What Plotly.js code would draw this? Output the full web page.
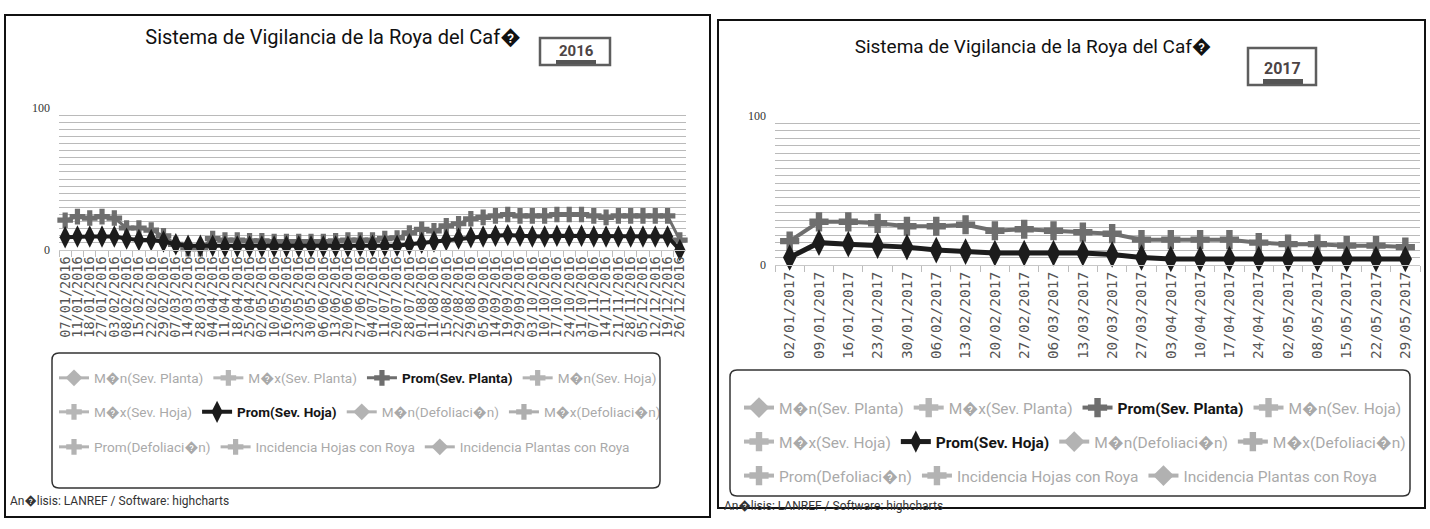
<!DOCTYPE html>
<html><head><meta charset="utf-8">
<script src="https://cdn.plot.ly/plotly-3.0.1.min.js"></script>
<style>
body{margin:0;background:#fff;}
#c16{position:absolute;left:0;top:0;width:715px;height:529px;}
#c17{position:absolute;left:715px;top:0;width:715px;height:529px;}
</style></head><body>
<div id="c16"></div><div id="c17"></div>
<script>
// ---------- DATA ----------
const chartTitle = 'Sistema de Vigilancia de la Roya del Caf\uFFFD';
const footerText = 'An\uFFFDlisis: LANREF / Software: highcharts';

const dates2016 = ['07/01/2016','11/01/2016','18/01/2016','27/01/2016','03/02/2016','08/02/2016','15/02/2016','22/02/2016','29/02/2016','07/03/2016','14/03/2016','28/03/2016','04/04/2016','11/04/2016','18/04/2016','25/04/2016','02/05/2016','10/05/2016','16/05/2016','23/05/2016','30/05/2016','06/06/2016','13/06/2016','20/06/2016','27/06/2016','04/07/2016','11/07/2016','20/07/2016','28/07/2016','01/08/2016','11/08/2016','15/08/2016','22/08/2016','29/08/2016','05/09/2016','14/09/2016','19/09/2016','29/09/2016','03/10/2016','10/10/2016','17/10/2016','24/10/2016','31/10/2016','07/11/2016','14/11/2016','21/11/2016','28/11/2016','05/12/2016','12/12/2016','19/12/2016','26/12/2016'];
const promSevPlanta2016 = [21,23.5,22.5,23.5,22.5,15.5,15.5,14,10,4,1,1,8,7,7,6.5,6.5,6,6,6,6,6,6.5,7,7,7,8,8.5,12,14.5,13.5,17,18.5,22,23,24,25,24,24,24,25,25,25,24,23,24,24,24,24,24,7];
const promSevHoja2016 = [9,9.5,9.5,9.5,9.5,8,7,7,6,4,3,3,3,2.5,2.5,2.5,2.5,2.5,2.5,2.5,2.5,2.5,2.5,2.5,3,3,3,3,4,5,6,7,8,9,9.5,10,10.5,10,9.5,9.5,10,10,10,9.5,9.5,9.5,9.5,9.5,9.5,9.5,0];

const dates2017 = ['02/01/2017','09/01/2017','16/01/2017','23/01/2017','30/01/2017','06/02/2017','13/02/2017','20/02/2017','27/02/2017','06/03/2017','13/03/2017','20/03/2017','27/03/2017','03/04/2017','10/04/2017','17/04/2017','24/04/2017','02/05/2017','08/05/2017','15/05/2017','22/05/2017','29/05/2017'];
const promSevPlanta2017 = [16,29,29,28,26,26,27,23,24,23,22,21,17,17,17,17,15,14,14,13,13,12];
const promSevHoja2017 = [5,15,14,13,12,10,9,8,8,8,8,7,5,4,4,4,4,4,4,4,4,4];

// the other nine series are switched off in the original (legend entries only, no values shown)
const hiddenSeriesY = [null];

const seriesNames = ['M\uFFFDn(Sev. Planta)','M\uFFFDx(Sev. Planta)','Prom(Sev. Planta)','M\uFFFDn(Sev. Hoja)','M\uFFFDx(Sev. Hoja)','Prom(Sev. Hoja)','M\uFFFDn(Defoliaci\uFFFDn)','M\uFFFDx(Defoliaci\uFFFDn)','Prom(Defoliaci\uFFFDn)','Incidencia Hojas con Roya','Incidencia Plantas con Roya'];
const seriesSymbols = ['diamond','cross','cross','cross','cross','diamond-tall','diamond','cross','cross','cross','diamond'];
const seriesColors = ['#6a6a6a','#707070','#6e6e6e','#6a6a6a','#6f6f6f','#1c1c1c','#6a6a6a','#606060','#6a6a6a','#6a6a6a','#656565'];
const legendRowOf = [0,0,0,0,1,1,1,1,2,2,2];

const yTick0 = 0, yTickStep = 100, yMinorStep = 5;

// ---------- DRAWING ----------
const FONT = 'Roboto, "Liberation Sans", sans-serif';
const W = 715, H = 529;
const legendIds = ['legend', 'legend2', 'legend3'];

function makePanel(divId, cfg) {
  const m = cfg.margin;
  const gw = W - m.l - m.r, gh = H - m.t - m.b;
  const px = x => (x - m.l) / gw;
  const py = y => (H - m.b - y) / gh;
  function roundRect(x0, y0, x1, y1, r) {
    const X = px, Y = py;
    return `M ${X(x0+r)},${Y(y0)} L ${X(x1-r)},${Y(y0)} Q ${X(x1)},${Y(y0)} ${X(x1)},${Y(y0+r)} ` +
           `L ${X(x1)},${Y(y1-r)} Q ${X(x1)},${Y(y1)} ${X(x1-r)},${Y(y1)} ` +
           `L ${X(x0+r)},${Y(y1)} Q ${X(x0)},${Y(y1)} ${X(x0)},${Y(y1-r)} ` +
           `L ${X(x0)},${Y(y0+r)} Q ${X(x0)},${Y(y0)} ${X(x0+r)},${Y(y0)} Z`;
  }
  const traces = seriesNames.map((name, i) => {
    const vis = (i === 2 || i === 5);
    return {
      type: 'scatter', mode: 'lines+markers',
      name: vis ? '<span style="color:#151515"><b>' + name + '</b></span>' : name,
      x: vis ? cfg.dates : [cfg.dates[0]],
      y: i === 2 ? cfg.planta : (i === 5 ? cfg.hoja : hiddenSeriesY),
      visible: vis ? true : 'legendonly',
      legend: legendIds[legendRowOf[i]],
      cliponaxis: false,
      line: {color: seriesColors[i], width: i === 5 ? cfg.hojaLine : cfg.plantaLine},
      marker: {symbol: seriesSymbols[i], color: seriesColors[i], size: i === 5 ? cfg.hojaSize : cfg.plantaSize}
    };
  });
  const layout = {
    width: W, height: H,
    margin: {l: m.l, r: m.r, t: m.t, b: m.b, pad: 0},
    paper_bgcolor: '#fff', plot_bgcolor: '#fff',
    font: {family: FONT, color: '#333'},
    title: {text: chartTitle, xref: 'container', yref: 'container', x: cfg.titleX / W, y: 1 - cfg.titleY / H,
            xanchor: 'center', yanchor: 'middle', font: {family: FONT, size: cfg.titleSize, color: '#111'}},
    showlegend: true,
    xaxis: {type: 'category', domain: [px(cfg.plotLeft), px(cfg.plotRight)], range: [-0.5, cfg.dates.length - 0.5],
            tickmode: 'array', tickvals: cfg.dates, ticktext: cfg.dates, tickangle: -90,
            tickfont: {family: '"DejaVu Sans Mono", monospace', size: cfg.tickSize, color: '#555'},
            showline: true, linecolor: '#c8c8c8', linewidth: 1, ticks: 'outside', tickson: 'boundaries',
            ticklen: 6, tickcolor: '#bdbdbd', showgrid: false, zeroline: false, fixedrange: true},
    yaxis: {range: [0, 100], tickmode: 'linear', tick0: yTick0, dtick: yTickStep,
            showgrid: true, gridcolor: '#9a9a9a', gridwidth: 1, zeroline: false,
            minor: {dtick: yMinorStep, showgrid: true, gridcolor: '#bababa', gridwidth: 1},
            tickfont: {family: '"Liberation Serif", serif', size: 12, color: '#333'}, ticks: '', ticklabelstandoff: 8, fixedrange: true},
    shapes: [
      {type: 'rect', xref: 'paper', yref: 'paper', x0: px(cfg.border[0]), y0: py(cfg.border[1]), x1: px(cfg.border[2]), y1: py(cfg.border[3]),
       line: {color: '#111', width: 2}, layer: 'above'},
      {type: 'path', xref: 'paper', yref: 'paper', path: roundRect(...cfg.legendBox, 7), line: {color: '#333', width: 1.5}, layer: 'above'},
      {type: 'rect', xref: 'paper', yref: 'paper', x0: px(cfg.yearBox[0]), y0: py(cfg.yearBox[1]), x1: px(cfg.yearBox[2]), y1: py(cfg.yearBox[3]),
       line: {color: '#5e5e5e', width: 2.5}, layer: 'above'},
      {type: 'rect', xref: 'paper', yref: 'paper', x0: px(cfg.yearBar[0]), y0: py(cfg.yearBar[1]), x1: px(cfg.yearBar[2]), y1: py(cfg.yearBar[3]),
       line: {width: 0}, fillcolor: '#555', layer: 'above'}
    ],
    annotations: [
      {text: '<b>' + cfg.year + '</b>', xref: 'paper', yref: 'paper', x: px(cfg.yearText[0]), y: py(cfg.yearText[1]),
       xanchor: 'center', yanchor: 'middle', showarrow: false, font: {family: FONT, size: cfg.yearSize, color: '#4d4444'}},
      {text: footerText, xref: 'paper', yref: 'paper', x: px(cfg.footer[0]), y: py(cfg.footer[1]),
       xanchor: 'left', yanchor: 'middle', showarrow: false, font: {family: FONT, size: 12, color: '#333'}}
    ]
  };
  legendIds.forEach((id, r) => {
    layout[id] = {orientation: 'h', x: px(cfg.legendX), xanchor: 'left', y: py(cfg.legendRows[r]), yanchor: 'middle',
                  font: {family: FONT, size: cfg.legendSize, color: '#555'}, bgcolor: 'rgba(0,0,0,0)',
                  borderwidth: 0, itemwidth: 30, traceorder: 'normal'};
  });
  Plotly.newPlot(divId, traces, layout, {staticPlot: true, displayModeBar: false});
}

makePanel('c16', {
  dates: dates2016, planta: promSevPlanta2016, hoja: promSevHoja2016, year: '2016',
  margin: {l: 52, r: 10, t: 108, b: 279}, plotLeft: 59, plotRight: 686, tickSize: 13.5,
  plantaSize: 13, hojaSize: 16, plantaLine: 3, hojaLine: 4,
  titleX: 333, titleY: 37, titleSize: 20,
  legendX: 54, legendRows: [378, 412, 447], legendSize: 13.6, legendBox: [52, 353, 660, 488],
  border: [5, 15, 710, 517], yearBox: [540, 38, 610, 65], yearBar: [556, 60, 596, 64], yearText: [576, 51], yearSize: 15,
  footer: [8, 500]
});
makePanel('c17', {
  dates: dates2017, planta: promSevPlanta2017, hoja: promSevHoja2017, year: '2017',
  margin: {l: 15, r: 3, t: 116, b: 264}, plotLeft: 60, plotRight: 705, tickSize: 14.5,
  plantaSize: 16, hojaSize: 19, plantaLine: 4, hojaLine: 5,
  titleX: 318, titleY: 46, titleSize: 19,
  legendX: 24, legendRows: [408, 442, 476], legendSize: 15.5, legendBox: [15, 370, 695, 496],
  border: [3, 20, 710, 508], yearBox: [533, 48, 601, 85], yearBar: [548, 79, 588, 84], yearText: [567, 68], yearSize: 16,
  footer: [7, 505]
});
</script>
</body></html>
